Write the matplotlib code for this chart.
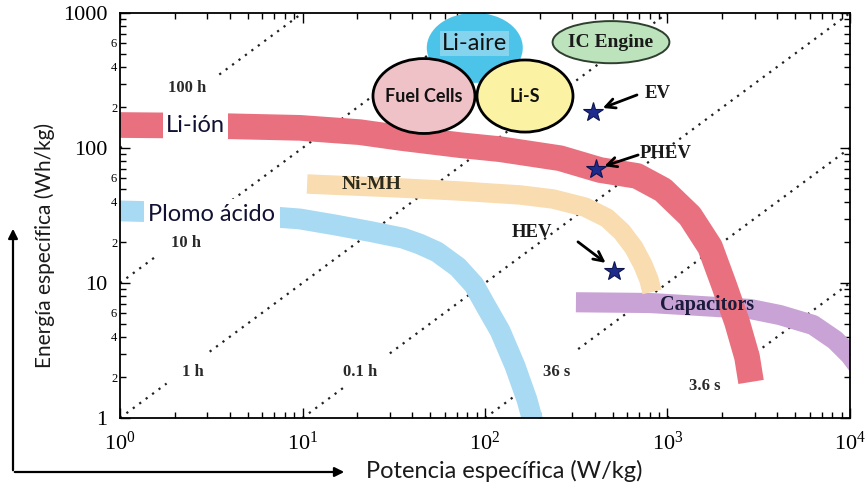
import matplotlib.pyplot as plt
import numpy as np
from matplotlib.patches import Ellipse
from matplotlib.ticker import FixedLocator, FuncFormatter, LogLocator, NullFormatter

plt.rcParams['font.family'] = ['Liberation Serif', 'DejaVu Serif']
plt.rcParams['mathtext.fontset'] = 'stix'
SANS = ['Lato', 'DejaVu Sans']

# Ragone bands: specific power (W/kg) vs specific energy (Wh/kg)
li_ion_p = [1, 3.11, 9.69, 20.6, 34.2, 73, 121, 258, 427, 681, 945, 1328, 1710, 2040, 2403, 2728, 2870]
li_ion_e = [148, 146, 141, 131, 119, 105, 98, 84, 68.7, 62.1, 48.9, 31.4, 18.5, 9.67, 5.14, 2.83, 1.85]

nimh_p = [10.6, 34.2, 73, 106, 155.5, 236, 353, 466, 563, 655, 734, 793, 822]
nimh_e = [54.1, 50.6, 48.0, 46.4, 44.9, 41.9, 36.5, 30.3, 23.9, 18.2, 13.6, 10.5, 8.58]

lead_p = [1, 2.74, 5.85, 9.69, 15.1, 23.4, 35.5, 44.0, 54.6, 71.1, 87.1, 101, 121, 146, 170, 185]
lead_e = [34.2, 33.0, 31.4, 29.8, 26.9, 24.1, 21.5, 19.4, 17.0, 13.1, 9.67, 6.76, 4.41, 2.43, 1.36, 0.89]

cap_p = [315, 802, 1507, 2832, 4130, 6270, 8280, 10000, 12090]
cap_e = [7.2, 7.11, 6.76, 6.42, 5.79, 4.89, 3.78, 2.93, 2.08]

# vehicle requirements
vehicles = ['EV', 'PHEV', 'HEV']
veh_p = [391, 406, 509]
veh_e = [185, 69.9, 12.3]

# constant discharge time lines, E = P * t
times_h = [100, 10, 1, 0.1, 0.01, 0.001]
time_labels = ['100 h', '10 h', '1 h', '0.1 h', '36 s', '3.6 s']

fig = plt.figure(figsize=(8.68, 4.92), dpi=100)
ax = fig.add_axes([120 / 868, 74 / 492, 730 / 868, 405 / 492])
ax.set_xscale('log')
ax.set_yscale('log')
ax.set_xlim(1, 1e4)
ax.set_ylim(1, 1000)

# dotted time lines, broken where the labels sit
gaps = {100: (1.05, 3.5), 10: (1.55, 3.5), 1: (1.8, 3.1),
        0.1: (17.1, 30.1), 0.01: (142, 324), 0.001: (1063, 2400)}
label_pos = [(2.33, 278), (2.30, 19.8), (2.51, 2.19), (20.6, 2.19), (248, 2.19), (1604, 1.73)]
for t, lab, (lx, ly) in zip(times_h, time_labels, label_pos):
    p0 = max(1, 1 / t)
    p1 = min(1e4, 1000 / t)
    g0, g1 = gaps[t]
    for a, b in [(p0, g0), (g1, p1)]:
        if b > a:
            pp = np.array([a, b])
            ax.plot(pp, pp * t, color='#222222', lw=1.6, ls=(0, (1, 2.6)), zorder=1)
    ax.text(lx, ly, lab, ha='center', va='center', fontsize=12, fontweight='bold',
            color='#2a2a2a', zorder=3)

band = dict(solid_capstyle='butt', solid_joinstyle='round')
ax.plot(cap_p, cap_e, color='#c9a3d6', lw=14.5, zorder=2, **band)
ax.plot(nimh_p, nimh_e, color='#f9dcb0', lw=14, zorder=2, **band)
ax.plot(lead_p, lead_e, color='#a8daf3', lw=15, zorder=2, **band)
ax.plot(li_ion_p, li_ion_e, color='#e9717f', lw=18.5, zorder=2.1, **band)

ax.text(2.6, 146, 'Li-ión', family=SANS, fontsize=17, ha='center', va='center', color='#111133',
        zorder=3, bbox=dict(boxstyle='square,pad=0.12', fc='white', ec='none'))
ax.text(3.19, 32.2, 'Plomo ácido', family=SANS, fontsize=17, ha='center', va='center', color='#111133',
        zorder=3, bbox=dict(boxstyle='square,pad=0.2', fc='white', ec='none'))
ax.text(24, 53.5, 'Ni-MH', fontsize=14, fontweight='bold', ha='center', va='center',
        color='#2b2a1e', zorder=3)
ax.text(1650, 6.9, 'Capacitors', fontsize=14.5, fontweight='bold', ha='center', va='center',
        color='#1b1b3b', zorder=3)

# technology bubbles
bubbles = [
    ((0.486, 0.914), 0.1315, 0.173, '#4cc4ea', 'none', 'Li-aire'),
    ((0.4164, 0.795), 0.1397, 0.185, '#efc2c8', 'black', 'Fuel Cells'),
    ((0.5548, 0.795), 0.1315, 0.178, '#fbf3a3', 'black', 'Li-S'),
    ((0.6726, 0.928), 0.160, 0.104, '#bce3bb', '#2f3f2f', 'IC Engine'),
]
for (cx, cy), w, h, fc, ec, name in bubbles:
    lw = 2.0 if ec == 'black' else 1.4
    ax.add_patch(Ellipse((cx, cy), w, h, transform=ax.transAxes, fc=fc, ec=ec, lw=lw, zorder=4))
    if name == 'Li-aire':
        ax.text(cx, cy + 0.01, name, transform=ax.transAxes, family=SANS, fontsize=17, ha='center',
                va='center', color='#111', zorder=5,
                bbox=dict(boxstyle='square,pad=0.08', fc='#86d3ee', ec='none'))
    elif name == 'IC Engine':
        ax.text(cx, cy, name, transform=ax.transAxes, fontsize=14, fontweight='bold', ha='center',
                va='center', color='#1a1a1a', zorder=5)
    else:
        ax.text(cx, cy, name, transform=ax.transAxes, family=SANS, fontsize=13, fontweight='bold',
                ha='center', va='center', color='#111', zorder=5)

# vehicle markers with arrows (offsets as factors on the log axes)
ax.plot(veh_p, veh_e, ls='none', marker='*', ms=15, color='#1e2b8e', mec='#0c1450', mew=0.8, zorder=6)
text_off = {'EV': (1.93, 1.38), 'PHEV': (1.74, 1.31), 'HEV': (0.355, 1.91)}
arrow_tail = {'EV': (1.74, 1.336), 'PHEV': (1.70, 1.27), 'HEV': (0.635, 1.64)}
arrow_head = {'EV': (1.13, 1.07), 'PHEV': (1.11, 1.05), 'HEV': (0.90, 1.146)}
for name, p, e in zip(vehicles, veh_p, veh_e):
    tx, ty = text_off[name]
    ha = 'left' if name != 'HEV' else 'center'
    ax.text(p * tx, e * ty, name, fontsize=13.5, fontweight='bold', ha=ha, va='center',
            color='#1a1a1a', zorder=6)
    (sx, sy), (hx, hy) = arrow_tail[name], arrow_head[name]
    ax.annotate('', xy=(p * hx, e * hy), xytext=(p * sx, e * sy),
                arrowprops=dict(arrowstyle='->', lw=2, color='black', mutation_scale=17,
                                shrinkA=0, shrinkB=0), zorder=6)

# ticks
ax.tick_params(which='both', direction='in', top=True, right=True, width=1)
ax.tick_params(which='major', length=7, labelsize=16)
ax.tick_params(which='minor', length=4)
ax.tick_params(axis='x', which='major', pad=10)
ax.tick_params(axis='y', which='major', pad=9)
ax.tick_params(axis='y', which='minor', pad=2, labelsize=9)
ax.yaxis.set_major_locator(FixedLocator([1, 10, 100, 1000]))
ax.yaxis.set_major_formatter(FuncFormatter(lambda v, pos: '%d' % round(v)))
ax.yaxis.set_minor_locator(LogLocator(base=10, subs=np.arange(2, 10)))


def minor_fmt(v, pos):
    d = int(round(v / 10 ** np.floor(np.log10(v) + 1e-9)))
    return str(d) if d in (2, 4, 6) else ''


ax.yaxis.set_minor_formatter(FuncFormatter(minor_fmt))
ax.xaxis.set_minor_formatter(NullFormatter())
for s in ax.spines.values():
    s.set_linewidth(1.3)
    s.set_zorder(7)

# axis titles and arrows outside the plot
fig.text(45 / 868, 1 - 245 / 492, 'Energía específica (Wh/kg)', family=SANS, fontsize=15,
         rotation=90, ha='center', va='center', color='#1a1a1a')
fig.text(504 / 868, 1 - 471 / 492, 'Potencia específica (W/kg)', family=SANS, fontsize=17,
         ha='center', va='center', color='#1a1a1a')
ax.annotate('', xy=(13, 266), xytext=(13, 19), xycoords='figure pixels', textcoords='figure pixels',
            arrowprops=dict(arrowstyle='-|>', lw=1.6, color='black', mutation_scale=14), annotation_clip=False)
ax.annotate('', xy=(347, 20), xytext=(12, 20), xycoords='figure pixels', textcoords='figure pixels',
            arrowprops=dict(arrowstyle='-|>', lw=1.6, color='black', mutation_scale=14), annotation_clip=False)

fig.savefig('out.png', dpi=100)
